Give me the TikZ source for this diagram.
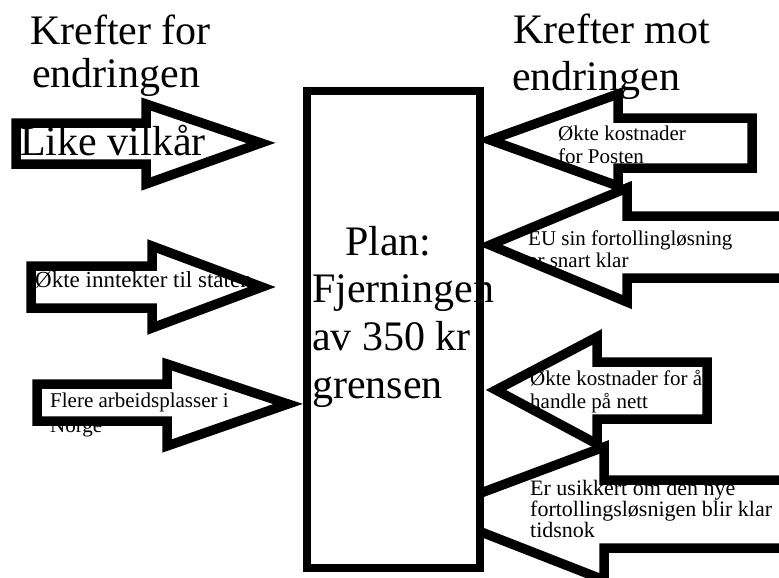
\documentclass[tikz,border=0pt]{standalone}
\usepackage{fontspec}
\setmainfont{Liberation Serif}
\begin{document}
\begin{tikzpicture}[x=1pt,y=-1pt,
  shapeline/.style={draw=black,line width=9.5pt,line join=miter},
  shapefill/.style={fill=white},
  lbl/.style={anchor=base west,inner sep=0pt,text=black},
  big/.style={lbl,font=\fontsize{42}{48}\selectfont},
  small/.style={lbl,font=\fontsize{21}{23}\selectfont},
  plate/.style={draw=black,fill=white,line width=8pt,minimum width=173pt,
    minimum height=477pt,inner sep=0pt}]

\useasboundingbox[fill=white] (0,0) rectangle (779,578);

% column headings
\node[big] (forA) at (30,45) {Krefter for};
\node[big] (forB) at (32,88) {endringen};
\node[big] (motA) at (513,44) {Krefter mot};
\node[big] (motB) at (512,90) {endringen};

% block arrow outlines
\def\arrowLa{(16,123) -- (146,123) -- (146,104) -- (261,143) -- (146,184) -- (146,164) -- (16,164) -- cycle}
\def\arrowLb{(31,266) -- (152,266) -- (152,246) -- (262,287) -- (152,328) -- (152,308) -- (31,308) -- cycle}
\def\arrowLc{(37,384) -- (167,384) -- (167,364) -- (288,404) -- (167,446) -- (167,421) -- (37,421) -- cycle}
\def\arrowRa{(490,140) -- (618,94) -- (618,118) -- (752,118) -- (752,168) -- (618,168) -- (618,186) -- cycle}
\def\arrowRb{(490,245) -- (627,188) -- (627,216) -- (800,216) -- (800,278) -- (627,278) -- (627,302) -- cycle}
\def\arrowRc{(496,390) -- (597,337) -- (597,362) -- (707,362) -- (707,419) -- (597,419) -- (597,444) -- cycle}
\def\arrowRd{(430,512) -- (604,447) -- (604,480) -- (800,480) -- (800,548) -- (604,548) -- (604,580) -- cycle}

% white bodies
\path[shapefill] \arrowLa;
\path[shapefill] \arrowLb;
\path[shapefill] \arrowLc;
\path[shapefill] \arrowRa;
\path[shapefill] \arrowRb;
\path[shapefill] \arrowRc;
\path[shapefill] \arrowRd;

% forces for the change
\node[big] (lika) at (20,155) {Like vilkår};
\node[lbl,font=\fontsize{23}{25}\selectfont] (inntekt) at (35,287) {Økte inntekter til staten};
\node[small] (arbA) at (50,407) {Flere arbeidsplasser i};
\node[small] (arbB) at (50,432) {Norge};

% forces against the change
\node[small] (postA) at (558,140) {Økte kostnader};
\node[small] (postB) at (558,163) {for Posten};
\node[small] (euA) at (528,245) {EU sin fortollingløsning};
\node[small] (euB) at (528,267) {er snart klar};
\node[small] (nettA) at (530,385) {Økte kostnader for å};
\node[small] (nettB) at (530,408) {handle på nett};
\node[small,font=\fontsize{22}{24}\selectfont] (usA) at (530,495) {Er usikkert om den nye};
\node[small,font=\fontsize{22}{24}\selectfont] (usB) at (530,516) {fortollingsløsnigen blir klar};
\node[small,font=\fontsize{22}{24}\selectfont] (usC) at (530,537) {tidsnok};

% outlines on top
\path[shapeline] \arrowLa;
\path[shapeline] \arrowLb;
\path[shapeline] \arrowLc;
\path[shapeline] \arrowRa;
\path[shapeline] \arrowRb;
\path[shapeline] \arrowRc;
\path[shapeline] \arrowRd;

% the plan in the middle
\node[plate] (plan) at (393.5,329.5) {};
\node[big] (planA) at (345,255) {Plan:};
\node[big] (planB) at (312,302) {Fjerningen};
\node[big] (planC) at (312,350) {av 350 kr};
\node[big] (planD) at (312,398) {grensen};
\end{tikzpicture}
\end{document}
